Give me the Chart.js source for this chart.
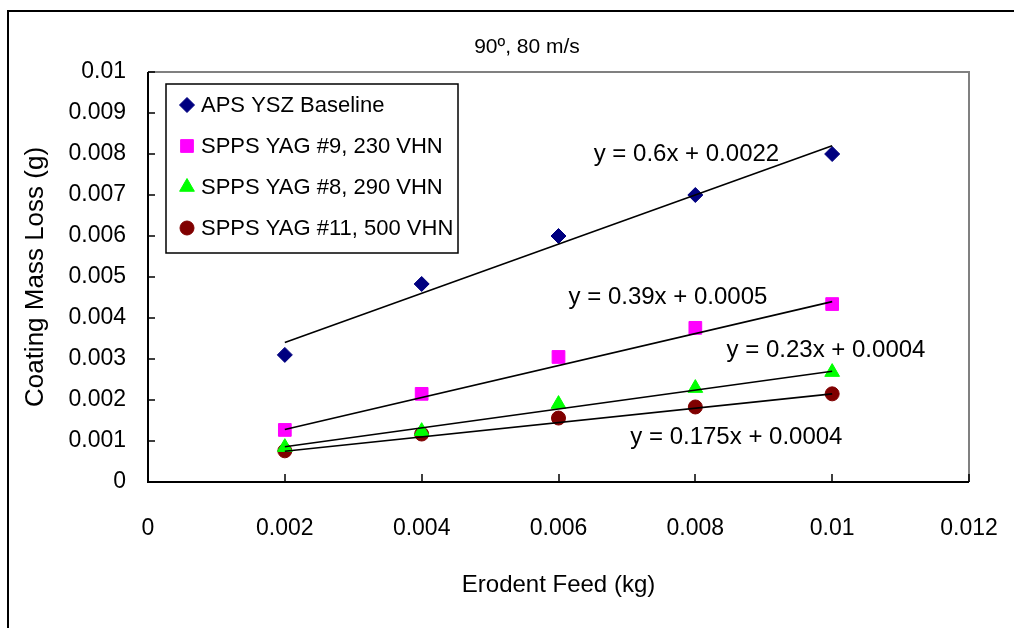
<!DOCTYPE html>
<html><head><meta charset="utf-8">
<script src="https://cdn.jsdelivr.net/npm/chart.js@4"></script>
<style>html,body{margin:0;padding:0;background:#fff}#wrap{width:1014px;height:628px}</style>
</head><body><div id="wrap"><canvas id="c" width="1014" height="628"></canvas></div>
<script>
// ---- data ----
const feed = [0.002, 0.004, 0.006, 0.008, 0.01];
const seriesNames = ["APS YSZ Baseline", "SPPS YAG #9, 230 VHN", "SPPS YAG #8, 290 VHN", "SPPS YAG #11, 500 VHN"];
const apsYsz = [0.0031, 0.00483, 0.006, 0.007, 0.008];
const yag9 = [0.00127, 0.00215, 0.00305, 0.00376, 0.00434];
const yag8 = [0.00085, 0.00124, 0.0019, 0.00229, 0.00268];
const yag11 = [0.00076, 0.00117, 0.00156, 0.00183, 0.00215];
const trendX = [0.002, 0.01];
const trendAps = [0.0034, 0.0082];
const trendYag9 = [0.00128, 0.0044];
const trendYag8 = [0.00086, 0.0027];
const trendYag11 = [0.00075, 0.00215];
const equations = ["y = 0.6x + 0.0022", "y = 0.39x + 0.0005", "y = 0.23x + 0.0004", "y = 0.175x + 0.0004"];
const xTicks = [0, 0.002, 0.004, 0.006, 0.008, 0.01, 0.012];
const xTickLabels = ["0", "0.002", "0.004", "0.006", "0.008", "0.01", "0.012"];
const yTicks = [0, 0.001, 0.002, 0.003, 0.004, 0.005, 0.006, 0.007, 0.008, 0.009, 0.01];
const yTickLabels = ["0", "0.001", "0.002", "0.003", "0.004", "0.005", "0.006", "0.007", "0.008", "0.009", "0.01"];
const chartTitle = "90\u00BA, 80 m/s";
const xTitle = "Erodent Feed (kg)";
const yTitle = "Coating Mass Loss (g)";

// font detection: prefer a narrow Arial-like face
const REG = "'Liberation Sans', Arial, sans-serif";
let NARROW = null;
(function () {
  const c = document.createElement('canvas').getContext('2d');
  c.font = "40px monospace"; const a = c.measureText("0.002 SPPS YAG").width;
  c.font = "40px 'Liberation Sans Narrow', monospace"; const b = c.measureText("0.002 SPPS YAG").width;
  if (Math.abs(a - b) > 1) NARROW = "'Liberation Sans Narrow', 'Liberation Sans', sans-serif";
})();
const F = (nSize, rSize) => NARROW ? {family: NARROW, size: nSize} : {family: REG, size: rSize};
const fTick = F(27, 23), fLegend = F(26, 22), fEq = F(29, 24), fTitle = F(26, 21), fXTitle = F(29, 24);
const css = f => f.size + 'px ' + f.family;

const pts = (ys) => feed.map((x, i) => ({x: x, y: ys[i]}));
const line = (ys) => trendX.map((x, i) => ({x: x, y: ys[i]}));

const markerStyles = [
  {pointStyle: 'rectRot', radius: 7.5, color: '#000080'},
  {pointStyle: 'rect', radius: 9, color: '#FF00FF'},
  {pointStyle: 'triangle', radius: 8.5, color: '#00FF00'},
  {pointStyle: 'circle', radius: 7, color: '#800000'}
];
const seriesData = [apsYsz, yag9, yag8, yag11];
const trendData = [trendAps, trendYag9, trendYag8, trendYag11];

const datasets = [];
seriesData.forEach((ys, i) => {
  const s = markerStyles[i];
  datasets.push({
    label: seriesNames[i], data: pts(ys), showLine: false, isSeries: true,
    pointStyle: s.pointStyle, pointRadius: s.radius, pointHoverRadius: s.radius,
    backgroundColor: s.color, borderColor: s.color, pointBorderWidth: 1, order: 2
  });
});
trendData.forEach((ys, i) => {
  datasets.push({
    label: equations[i], data: line(ys), showLine: true, pointRadius: 0,
    borderColor: '#000', borderWidth: 1.6, fill: false, order: 1
  });
});

// label anchors (data coordinates) for the trendline equations
const eqAnchors = [[0.00787, 0.00798], [0.0076, 0.00451], [0.00991, 0.00322], [0.0086, 0.0011]];

const decor = {
  id: 'decor',
  beforeDraw(chart) {
    const ctx = chart.ctx;
    ctx.save();
    ctx.fillStyle = '#fff';
    ctx.fillRect(0, 0, chart.width, chart.height);
    ctx.strokeStyle = '#000';
    ctx.lineWidth = 2;
    ctx.strokeRect(8, 11, chart.width + 20, chart.height + 20);
    ctx.fillStyle = '#000';
    ctx.font = css(fTitle);
    ctx.textAlign = 'center';
    ctx.textBaseline = 'middle';
    ctx.fillText(chartTitle, 527, 47);
    ctx.restore();
  },
  afterDatasetsDraw(chart) {
    const ctx = chart.ctx;
    const a = chart.chartArea;
    const xs = chart.scales.x, ys = chart.scales.y;
    ctx.save();
    ctx.lineWidth = 2;
    ctx.strokeStyle = '#808080';
    ctx.beginPath();
    ctx.moveTo(a.left, a.top); ctx.lineTo(a.right, a.top); ctx.lineTo(a.right, a.bottom);
    ctx.stroke();
    ctx.strokeStyle = '#000';
    ctx.beginPath();
    ctx.moveTo(a.left, a.top); ctx.lineTo(a.left, a.bottom); ctx.lineTo(a.right, a.bottom);
    ctx.stroke();
    ctx.lineWidth = 1.5;
    ctx.beginPath();
    yTicks.forEach(v => { const py = Math.round(ys.getPixelForValue(v)); ctx.moveTo(a.left, py); ctx.lineTo(a.left + 7, py); });
    xTicks.forEach(v => { const px = Math.round(xs.getPixelForValue(v)); ctx.moveTo(px, a.bottom); ctx.lineTo(px, a.bottom - 8); });
    ctx.stroke();
    ctx.restore();
  },
  afterDraw(chart) {
    const ctx = chart.ctx;
    const a = chart.chartArea;
    const xs = chart.scales.x, ys = chart.scales.y;
    ctx.save();
    ctx.fillStyle = '#000';
    ctx.font = css(fEq);
    ctx.textAlign = 'center';
    ctx.textBaseline = 'middle';
    eqAnchors.forEach((p, i) => {
      ctx.fillText(equations[i], xs.getPixelForValue(p[0]), ys.getPixelForValue(p[1]));
    });
    // legend
    const lx = a.left + 18, ly = a.top + 12, lw = 292, lh = 169;
    ctx.fillStyle = '#fff';
    ctx.fillRect(lx, ly, lw, lh);
    ctx.strokeStyle = '#000';
    ctx.lineWidth = 1.5;
    ctx.strokeRect(lx, ly, lw, lh);
    const series = chart.data.datasets.filter(d => d.isSeries);
    series.forEach((d, i) => {
      const cy = ly + 21 + i * 41;
      ctx.fillStyle = d.backgroundColor; ctx.strokeStyle = d.borderColor; ctx.lineWidth = 1;
      Chart.helpers.drawPoint(ctx, {pointStyle: d.pointStyle, radius: d.pointRadius, rotation: 0, borderWidth: 1}, lx + 21, cy);
      ctx.fillStyle = '#000';
      ctx.font = css(fLegend);
      ctx.textAlign = 'left';
      ctx.textBaseline = 'middle';
      ctx.fillText(d.label, lx + 35, cy + 1);
    });
    ctx.restore();
  }
};

new Chart(document.getElementById('c'), {
  type: 'scatter',
  data: {datasets: datasets},
  options: {
    responsive: false,
    animation: false,
    events: [],
    layout: {padding: {left: 10, top: 72, right: 45, bottom: 0}},
    plugins: {legend: {display: false}, tooltip: {enabled: false}, title: {display: false}},
    scales: {
      x: {
        type: 'linear', min: 0, max: 0.012,
        afterBuildTicks: s => { s.ticks = xTicks.map(v => ({value: v})); },
        afterFit: s => { s.height = 146; s.paddingLeft = 0; s.paddingRight = 0; },
        grid: {display: false, drawTicks: false}, border: {display: false},
        ticks: {color: '#000', font: fTick, padding: 33, maxRotation: 0, autoSkip: false,
          callback: (v, i) => xTickLabels[i]},
        title: {display: true, text: xTitle, color: '#000', font: fXTitle, padding: {top: 0, bottom: 28}}
      },
      y: {
        type: 'linear', min: 0, max: 0.01,
        afterBuildTicks: s => { s.ticks = yTicks.map(v => ({value: v})); },
        afterFit: s => { s.width = 138; s.paddingTop = 0; s.paddingBottom = 0; },
        grid: {display: false, drawTicks: false}, border: {display: false},
        ticks: {color: '#000', font: fTick, padding: 22, autoSkip: false,
          callback: (v, i) => yTickLabels[i]},
        title: {display: true, text: yTitle, color: '#000', font: {family: REG, size: 26}, padding: {top: 10, bottom: 0}}
      }
    }
  },
  plugins: [decor]
});
</script>
</body></html>
